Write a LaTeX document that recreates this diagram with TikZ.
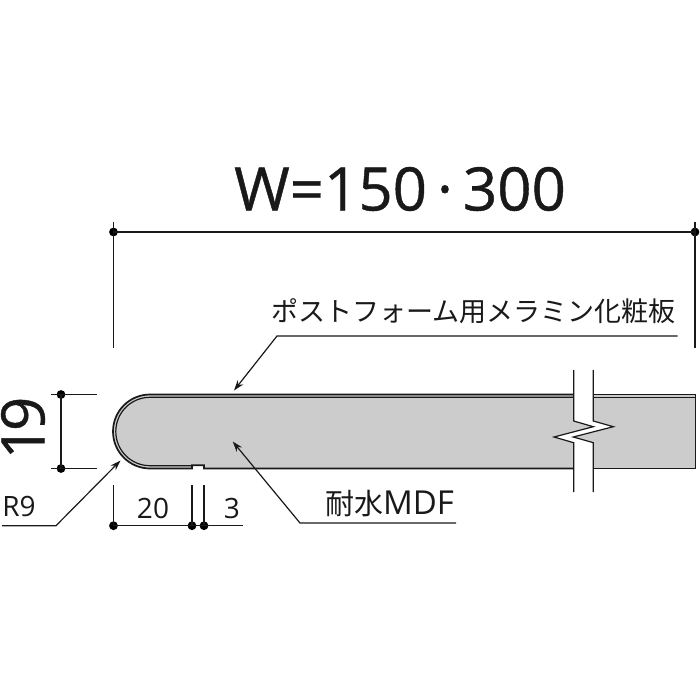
\documentclass[tikz,border=0pt]{standalone}
\usepackage{fontspec}
\setmainfont{Open Sans}
\newfontfamily\bigfont[FakeBold=0.7]{Open Sans}
\newfontfamily\jpfont{Noto Sans CJK JP}
\usetikzlibrary{arrows.meta}
\tikzset{
  dimline/.style={line width=1.2pt,black!90},
  leader/.style={line width=1.2pt,black!90,-{Stealth[length=10.5pt,width=7pt]}},
  bdline/.style={line width=1.7pt,black!90},
  fine/.style={line width=1.2pt,black!90},
  dimdot/.style={circle,fill=black,inner sep=0pt,minimum size=8.8pt},
  lab/.style={inner sep=0pt,text=black!90},
}
\begin{document}
\begin{tikzpicture}[x=1pt,y=-1pt]
\useasboundingbox (0,0) rectangle (700,700);
% board
\fill[black!20] (150,394.5) arc[start angle=90,end angle=270,radius=37,y radius=-37] -- (192,468.5) -- (192,465.3) -- (204,465.3) -- (204,468.5) -- (695.5,468.5) -- (695.5,394.5) -- cycle;
\fill[white] (573.7,388) -- (573.7,421) -- (593.3,426.7) -- (554,437) -- (573.7,442.7) -- (573.7,475) -- (593.3,475) -- (593.3,442.7) -- (573.3,437) -- (613.3,426.7) -- (593.3,421) -- (593.3,388) -- cycle;
% outlines
\draw[bdline] (573.7,394.5) -- (150,394.5) arc[start angle=90,end angle=270,radius=37,y radius=-37] -- (192,468.5) -- (192,465.3) -- (204,465.3) -- (204,468.5) -- (573.7,468.5);
\draw[fine] (573.7,397.3) -- (150,397.3) arc[start angle=90,end angle=270,radius=34.2,y radius=-34.2] -- (192,465.7);
\draw[bdline] (593.3,394.5) -- (695.5,394.5) -- (695.5,468.5) -- (593.3,468.5);
\draw[fine] (593.3,397.3) -- (695.5,397.3);
% break lines
\draw[fine,line join=miter] (573.7,370) -- (573.7,421) -- (593.3,426.7) -- (554,437) -- (573.7,442.7) -- (573.7,492);
\draw[fine,line join=miter] (593.3,370) -- (593.3,421) -- (613.3,426.7) -- (573.3,437) -- (593.3,442.7) -- (593.3,492);
% W dimension
\node[dimdot] (wl) at (113.5,232) {};
\node[dimdot] (wr) at (695,232) {};
\coordinate (wlt) at (113.5,222);
\coordinate (wlb) at (113.5,348);
\coordinate (wrt) at (695,222);
\coordinate (wrb) at (695,348);
\draw[dimline] (wl.center) -- (wr.center);
\draw[dimline] (wlt) -- (wlb);
\draw[dimline] (wrt) -- (wrb);
\node[lab,font=\bigfont\fontsize{60pt}{60pt}\selectfont] (wtext) at (400,189) {W=150\,·\,300};
% height dimension
\node[dimdot] (ht) at (61,394.5) {};
\node[dimdot] (hb) at (61,468.5) {};
\coordinate (htl) at (51,394.5);
\coordinate (htr) at (97,394.5);
\coordinate (hbl) at (51,468.5);
\coordinate (hbr) at (97,468.5);
\draw[dimline] (ht.center) -- (hb.center);
\draw[dimline] (htl) -- (htr);
\draw[dimline] (hbl) -- (hbr);
\node[lab,rotate=90,font=\bigfont\fontsize{60pt}{60pt}\selectfont] (h19) at (23,428) {1\kern-6pt 9};
% bottom dims
\node[dimdot] (d0) at (113.5,525.7) {};
\node[dimdot] (d1) at (192,525.7) {};
\node[dimdot] (d2) at (204,525.7) {};
\coordinate (d0t) at (113.5,485);
\coordinate (d1t) at (192,485);
\coordinate (d2t) at (204,485);
\coordinate (dend) at (242.7,525.7);
\draw[dimline] (d0.center) -- (dend);
\draw[dimline] (d0t) -- (d0.center);
\draw[dimline] (d1t) -- (d1.center);
\draw[dimline] (d2t) -- (d2.center);
\node[lab,font=\fontsize{28pt}{28pt}\selectfont] (t20) at (153,508) {20};
\node[lab,font=\fontsize{28pt}{28pt}\selectfont] (t3) at (232,508) {3};
% R9
\node[lab,font=\fontsize{28pt}{28pt}\selectfont] (r9) at (19,506) {R9};
\coordinate (r0) at (2,525.7);
\coordinate (r1) at (56,525.7);
\coordinate (r2) at (120.5,460.5);
\draw[leader] (r0) -- (r1) -- (r2);
% top leader
\node[lab,font=\jpfont\fontsize{27pt}{27pt}\selectfont] (melamine) at (473.5,311) {ポストフォーム用メラミン化粧板};
\coordinate (m0) at (677.5,336);
\coordinate (m1) at (277,336);
\coordinate (m2) at (234,390.5);
\draw[leader] (m0) -- (m1) -- (m2);
% MDF leader
\node[lab,font=\jpfont\fontsize{29pt}{29pt}\selectfont] (mdf) at (389.5,504) {耐水{\rmfamily\fontsize{33pt}{33pt}\selectfont MDF}};
\coordinate (f0) at (456,523);
\coordinate (f1) at (300,523);
\coordinate (f2) at (232.7,441.5);
\draw[leader] (f0) -- (f1) -- (f2);
\end{tikzpicture}
\end{document}
